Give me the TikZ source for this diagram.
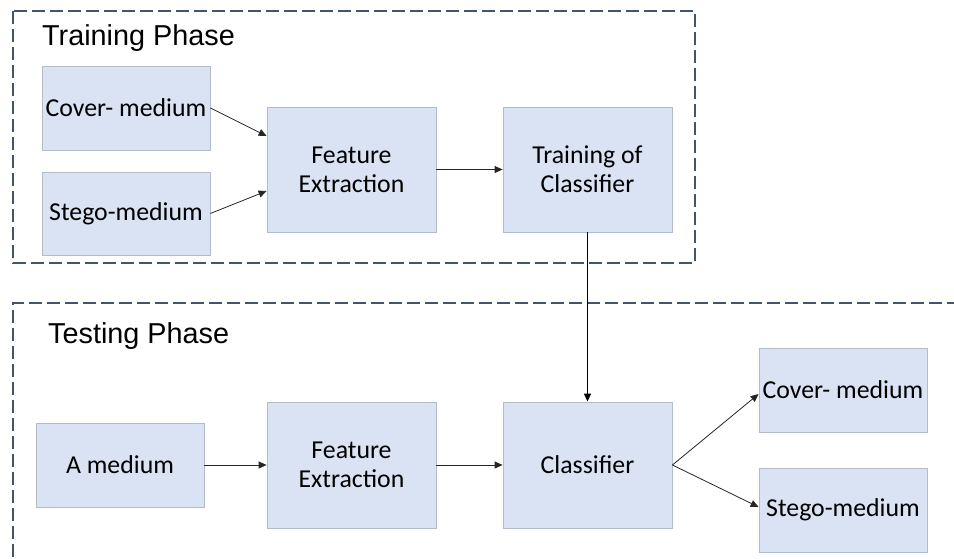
\documentclass[tikz,border=0pt]{standalone}
\usepackage{fontspec}
\setmainfont{Carlito}
\newfontfamily\titlefont{Liberation Sans}
\usetikzlibrary{arrows.meta}
\definecolor{boxfill}{HTML}{DAE3F3}
\definecolor{boxline}{HTML}{B4BCC8}
\definecolor{dashc}{HTML}{44546A}
\tikzset{
  blk/.style={draw=boxline, line width=0.8pt, fill=boxfill, inner sep=0pt, align=center,
    minimum width=168pt, font=\fontsize{25.8}{29}\selectfont},
  phase/.style={draw=dashc, line width=1.8pt, dash pattern=on 13pt off 5pt},
  ttl/.style={anchor=base west, inner sep=0pt, font=\titlefont\fontsize{28.8}{32}\selectfont},
  arr/.style={-{Triangle[length=8pt,width=7pt]}, line width=0.8pt, draw=black!85},
}
\begin{document}
\begin{tikzpicture}[x=1pt,y=-1pt]
\useasboundingbox (0,0) rectangle (954,558);
% phases
\draw[phase] (13,11) rectangle (695,263);
\draw[phase] (960,303) -- (13,303) -- (13,565);
\node[ttl] (t1) at (42,45) {Training Phase};
\node[ttl] (t2) at (48,343) {Testing Phase};
% training nodes
\node[blk, minimum height=84pt] (cov1) at (126,108) {Cover- medium};
\node[blk, minimum height=83pt] (steg1) at (126,213.5) {Stego-medium};
\node[blk, minimum width=169pt, minimum height=125pt] (fe1) at (351.5,169.5) {Feature\\Extraction};
\node[blk, minimum width=169pt, minimum height=125pt] (tc) at (587.5,169.5) {Training of\\Classifier};
% testing nodes
\node[blk, minimum height=84pt] (am) at (120,465) {A medium};
\node[blk, minimum width=169pt, minimum height=126pt] (fe2) at (351.5,465) {Feature\\Extraction};
\node[blk, minimum width=169pt, minimum height=126pt] (cls) at (587.5,465) {Classifier};
\node[blk, minimum height=84pt] (cov2) at (843,390) {Cover- medium};
\node[blk, minimum height=84pt] (steg2) at (843,510) {Stego-medium};
% connectors
\draw[arr] (cov1.east) -- ([yshift=33.5pt]fe1.west);
\draw[arr] (steg1.east) -- ([yshift=-21.5pt]fe1.west);
\draw[arr] (fe1.east) -- (tc.west);
\draw[arr, line width=1.5pt, draw=black] (tc.south) -- (cls.north);
\draw[arr] (am.east) -- (fe2.west);
\draw[arr] (fe2.east) -- (cls.west);
\draw[arr] (cls.east) -- ([yshift=-4pt]cov2.west);
\draw[arr] (cls.east) -- ([yshift=3pt]steg2.west);
\end{tikzpicture}
\end{document}
